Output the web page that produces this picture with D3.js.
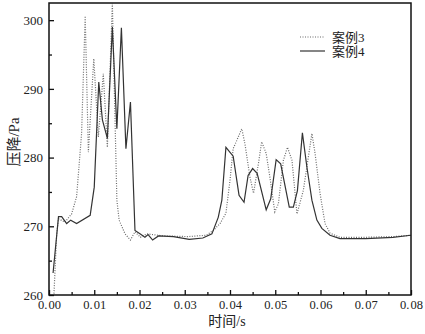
<!DOCTYPE html>
<html>
<head>
<meta charset="utf-8">
<script src="https://cdn.jsdelivr.net/npm/d3@7"></script>
<style>
  body { margin: 0; background: #fff; }
  svg text { font-family: "Liberation Serif", "Noto Sans CJK SC", serif; fill: #222; }
</style>
</head>
<body>
<div class="chart"></div>
<script>
// declare global values
const WIDTH = 425;
const HEIGHT = 334;
const MARGIN = { top: 3, right: 14, bottom: 39, left: 49 };

// case 3 (dotted)
const time3 = [0.0011, 0.0017, 0.0021, 0.0035, 0.0050, 0.0061, 0.0072, 0.0080, 0.0087, 0.0099,
  0.0109, 0.0120, 0.0129, 0.0140, 0.0150, 0.0155, 0.0168, 0.0180, 0.0190, 0.0202, 0.0216,
  0.0253, 0.0308, 0.0348, 0.0363, 0.0378, 0.0391, 0.0400, 0.0407, 0.0415, 0.0426, 0.0433,
  0.0444, 0.0452, 0.0463, 0.0470, 0.0480, 0.0488, 0.0499, 0.0507, 0.0518, 0.0527, 0.0537,
  0.0548, 0.0562, 0.0581, 0.0588, 0.0599, 0.0610, 0.0621, 0.0643, 0.0700, 0.0760, 0.0800];
const press3 = [260.2, 268.9, 271.1, 270.6, 271.8, 274.3, 283.5, 300.6, 280.8, 294.4,
  283.0, 292.2, 281.5, 302.4, 273.8, 270.9, 268.9, 268.0, 269.2, 268.4, 268.9,
  268.6, 268.5, 268.7, 269.4, 270.4, 271.9, 276.7, 281.3, 282.5, 284.2, 282.0,
  277.2, 274.8, 279.2, 282.3, 280.6, 277.2, 272.1, 273.3, 279.6, 281.5, 279.6,
  271.8, 275.2, 283.5, 280.6, 274.8, 270.4, 269.0, 268.4, 268.4, 268.5, 268.7];

// case 4 (solid)
const time4 = [0.0009, 0.0021, 0.0028, 0.0039, 0.0048, 0.0061, 0.0091, 0.0100, 0.0110, 0.0118,
  0.0129, 0.0140, 0.0150, 0.0160, 0.0170, 0.0180, 0.0190, 0.0201, 0.0212, 0.0219, 0.0229,
  0.0242, 0.0275, 0.0310, 0.0340, 0.0360, 0.0374, 0.0382, 0.0391, 0.0407, 0.0420, 0.0431,
  0.0440, 0.0450, 0.0460, 0.0480, 0.0490, 0.0502, 0.0512, 0.0531, 0.0540, 0.0549, 0.0560,
  0.0570, 0.0581, 0.0592, 0.0603, 0.0621, 0.0643, 0.0700, 0.0760, 0.0800];
const press4 = [263.2, 271.4, 271.4, 270.4, 270.9, 270.4, 271.6, 275.7, 291.0, 285.5,
  282.8, 299.0, 284.2, 298.9, 281.3, 288.1, 269.4, 268.9, 268.4, 268.8, 268.0,
  268.6, 268.5, 268.1, 268.3, 268.9, 271.3, 273.8, 281.5, 280.2, 274.5, 273.5,
  277.4, 278.4, 277.7, 272.4, 274.0, 279.7, 279.1, 272.8, 272.8, 275.2, 283.6,
  278.6, 273.8, 270.9, 269.7, 268.7, 268.2, 268.2, 268.4, 268.7];

const xTicks = [0, 0.01, 0.02, 0.03, 0.04, 0.05, 0.06, 0.07, 0.08];
const xMinor = [0.005, 0.015, 0.025, 0.035, 0.045, 0.055, 0.065, 0.075];
const yTicks = [260, 270, 280, 290, 300];
const yMinor = [265, 275, 285, 295];
const legendNames = ["案例3", "案例4"];

var svg = d3
  .select(".chart")
  .append("svg")
  .attr("width", WIDTH)
  .attr("height", HEIGHT);

var x = d3.scaleLinear().domain([0, 0.08]).range([MARGIN.left, WIDTH - MARGIN.right]);
var y = d3.scaleLinear().domain([260, 302.5]).range([HEIGHT - MARGIN.bottom, MARGIN.top]);

svg.append("clipPath").attr("id", "clip")
  .append("rect")
  .attr("x", MARGIN.left).attr("y", MARGIN.top)
  .attr("width", WIDTH - MARGIN.left - MARGIN.right)
  .attr("height", HEIGHT - MARGIN.top - MARGIN.bottom);

// build point arrays
var data3 = time3.map((t, i) => ({ t: t, v: press3[i] }));
var data4 = time4.map((t, i) => ({ t: t, v: press4[i] }));

var valueLine = d3.line().x((d) => x(d.t)).y((d) => y(d.v));

var plot = svg.append("g").attr("clip-path", "url(#clip)");

plot.append("path")
  .datum(data3)
  .attr("d", valueLine)
  .attr("fill", "none")
  .attr("stroke", "#6a6a6a")
  .attr("stroke-width", 1.2)
  .attr("stroke-dasharray", "1,1.5");

plot.append("path")
  .datum(data4)
  .attr("d", valueLine)
  .attr("fill", "none")
  .attr("stroke", "#333")
  .attr("stroke-width", 1.2);

// x axis, ticks pointing inward
svg.append("g")
  .attr("transform", `translate(0,${HEIGHT - MARGIN.bottom})`)
  .call(d3.axisBottom(x).tickValues(xTicks).tickSize(-5).tickPadding(5)
    .tickFormat((d) => d3.format(".2f")(d).replace(".", ".\u200A")))
  .call((g) => g.select(".domain").remove())
  .call((g) => g.selectAll(".tick line").attr("stroke", "#111").attr("stroke-width", 1.3))
  .call((g) => g.selectAll(".tick text").attr("font-size", 12.5).attr("fill", "#222")
    .attr("font-family", "Liberation Serif"));

svg.append("g")
  .attr("transform", `translate(0,${HEIGHT - MARGIN.bottom})`)
  .call(d3.axisBottom(x).tickValues(xMinor).tickSize(-3).tickFormat(""))
  .call((g) => g.select(".domain").remove())
  .call((g) => g.selectAll(".tick line").attr("stroke", "#111").attr("stroke-width", 1.3));

// y axis
svg.append("g")
  .attr("transform", `translate(${MARGIN.left},0)`)
  .call(d3.axisLeft(y).tickValues(yTicks).tickSize(-5).tickPadding(6))
  .call((g) => g.select(".domain").remove())
  .call((g) => g.selectAll(".tick line").attr("stroke", "#111").attr("stroke-width", 1.3))
  .call((g) => g.selectAll(".tick text").attr("font-size", 13).attr("fill", "#222")
    .attr("font-family", "Liberation Serif"));

svg.append("g")
  .attr("transform", `translate(${MARGIN.left},0)`)
  .call(d3.axisLeft(y).tickValues(yMinor).tickSize(-3).tickFormat(""))
  .call((g) => g.select(".domain").remove())
  .call((g) => g.selectAll(".tick line").attr("stroke", "#111").attr("stroke-width", 1.3));

// frame
svg.append("rect")
  .attr("x", MARGIN.left).attr("y", MARGIN.top)
  .attr("width", WIDTH - MARGIN.left - MARGIN.right)
  .attr("height", HEIGHT - MARGIN.top - MARGIN.bottom)
  .attr("fill", "none")
  .attr("stroke", "#111")
  .attr("stroke-width", 1.5);

// axis titles
svg.append("text")
  .attr("x", 227)
  .attr("y", 326)
  .attr("text-anchor", "middle")
  .attr("font-size", 14)
  .text("时间/s");

svg.append("text")
  .attr("transform", "translate(19,142) rotate(-90)")
  .attr("text-anchor", "middle")
  .attr("font-size", 15)
  .text("压降/Pa");

// legend
var legend = svg.append("g").attr("transform", "translate(300,37)");
legendNames.forEach(function (name, i) {
  var row = legend.append("g").attr("transform", `translate(0,${i * 14})`);
  row.append("line")
    .attr("x1", 0).attr("x2", 25).attr("y1", 0).attr("y2", 0)
    .attr("stroke", i === 0 ? "#6a6a6a" : "#333")
    .attr("stroke-width", 1.2)
    .attr("stroke-dasharray", i === 0 ? "1,1.5" : null);
  row.append("text")
    .attr("x", 32).attr("y", 4.5)
    .attr("font-size", 13)
    .text(name);
});
</script>
</body>
</html>
